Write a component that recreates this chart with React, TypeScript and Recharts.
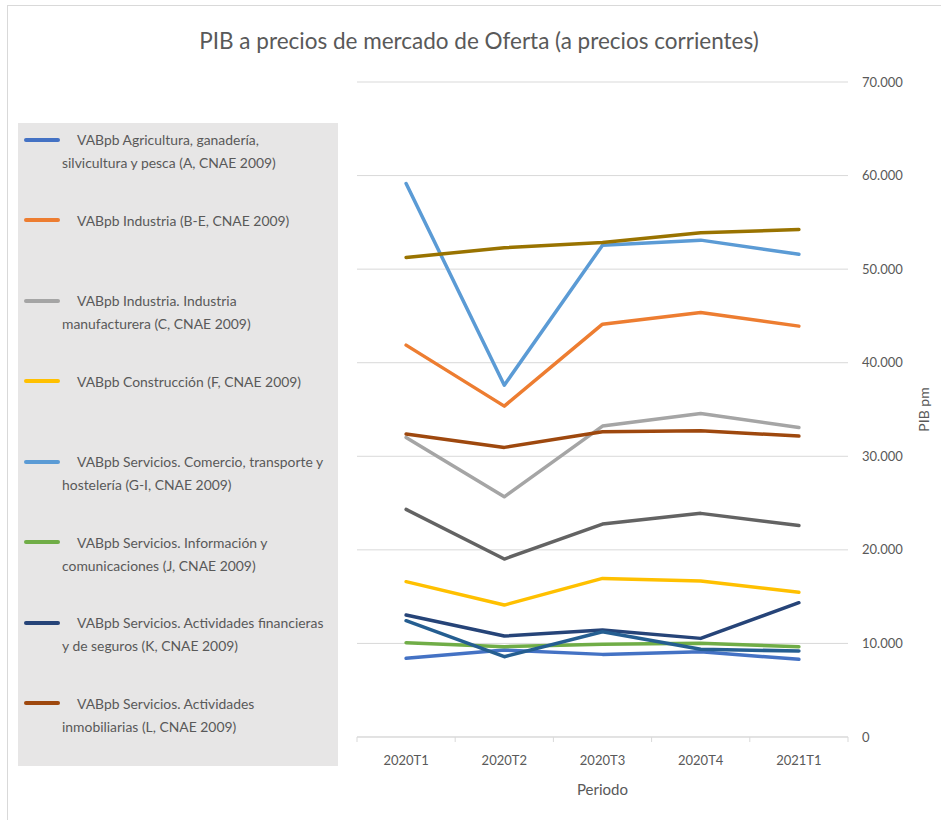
import React from 'react';
import { LineChart, Line, XAxis, YAxis, CartesianGrid } from 'recharts';

const periods = ['2020T1', '2020T2', '2020T3', '2020T4', '2021T1'];

// VAB por ramas de actividad, millones de euros
const agricultura = [8410, 9290, 8830, 9110, 8300];
const industria = [41880, 35360, 44120, 45370, 43910];
const manufacturera = [32020, 25670, 33230, 34580, 33080];
const construccion = [16600, 14100, 16950, 16670, 15460];
const comercio = [59150, 37600, 52560, 53100, 51600];
const informacion = [10080, 9650, 9900, 10010, 9650];
const financieras = [13030, 10790, 11430, 10540, 14350];
const inmobiliarias = [32370, 30950, 32620, 32730, 32160];
const profesionales = [24320, 19020, 22760, 23900, 22610];
const administracion = [51250, 52280, 52850, 53880, 54240];
const artisticas = [12430, 8580, 11250, 9370, 9190];

const yTicks = [0, 10000, 20000, 30000, 40000, 50000, 60000, 70000];

const series = [
  { key: 'agricultura', name: 'VABpb Agricultura, ganadería,\nsilvicultura y pesca (A, CNAE 2009)', color: '#4472C4', values: agricultura, legend: true },
  { key: 'industria', name: 'VABpb Industria (B-E, CNAE 2009)', color: '#ED7D31', values: industria, legend: true },
  { key: 'manufacturera', name: 'VABpb Industria. Industria\nmanufacturera (C, CNAE 2009)', color: '#A5A5A5', values: manufacturera, legend: true },
  { key: 'construccion', name: 'VABpb Construcción (F, CNAE 2009)', color: '#FFC000', values: construccion, legend: true },
  { key: 'comercio', name: 'VABpb Servicios. Comercio, transporte y\nhostelería (G-I, CNAE 2009)', color: '#5B9BD5', values: comercio, legend: true },
  { key: 'informacion', name: 'VABpb Servicios. Información y\ncomunicaciones (J, CNAE 2009)', color: '#70AD47', values: informacion, legend: true },
  { key: 'financieras', name: 'VABpb Servicios. Actividades financieras\ny de seguros (K, CNAE 2009)', color: '#264478', values: financieras, legend: true },
  { key: 'inmobiliarias', name: 'VABpb Servicios. Actividades\ninmobiliarias (L, CNAE 2009)', color: '#9E480E', values: inmobiliarias, legend: true },
  { key: 'profesionales', name: 'VABpb Servicios. Actividades profesionales (M-N, CNAE 2009)', color: '#636363', values: profesionales, legend: false },
  { key: 'administracion', name: 'VABpb Servicios. Administración pública, educación y sanidad (O-Q, CNAE 2009)', color: '#997300', values: administracion, legend: false },
  { key: 'artisticas', name: 'VABpb Servicios. Actividades artísticas y otros servicios (R-U, CNAE 2009)', color: '#255E91', values: artisticas, legend: false },
];

const data = periods.map((period, i) => {
  const row: Record<string, string | number> = { period };
  series.forEach((s) => {
    row[s.key] = s.values[i];
  });
  return row;
});

const FONT = 'Lato, "Liberation Sans", sans-serif';
const TEXT = '#595959';
const GRID = '#D9D9D9';

const formatMiles = (v: number) => String(v).replace(/\B(?=(\d{3})+(?!\d))/g, '.');

// etiqueta de periodo + marcas de división entre categorías
const PeriodTick = (props: any) => {
  const { x, y, payload, index, visibleTicksCount } = props;
  const half = payload && payload.offset ? payload.offset : 0;
  const isLast = index === visibleTicksCount - 1;
  return (
    <g>
      <line x1={x - half} y1={y} x2={x - half} y2={y + 5} stroke={GRID} />
      {isLast && <line x1={x + half} y1={y} x2={x + half} y2={y + 5} stroke={GRID} />}
      <text x={x} y={y + 28} textAnchor="middle" fill={TEXT} fontSize={13} fontFamily={FONT}>
        {payload.value}
      </text>
    </g>
  );
};

const SeriesLegend = () => (
  <div
    style={{
      position: 'absolute',
      left: 18,
      top: 123,
      width: 320,
      height: 643,
      boxSizing: 'border-box',
      paddingTop: 5,
      background: '#E7E6E6',
      fontFamily: FONT,
      fontSize: 13.9,
      color: TEXT,
    }}
  >
    {series
      .filter((s) => s.legend)
      .map((s) => (
        <div key={s.key} style={{ position: 'relative', height: 80.5 }}>
          <div
            style={{
              position: 'absolute',
              left: 6,
              top: 9.5,
              width: 36,
              height: 4,
              borderRadius: 2,
              background: s.color,
            }}
          />
          <div
            style={{
              position: 'absolute',
              left: 44,
              top: 0,
              width: 290,
              lineHeight: '23px',
              textIndent: 15,
              whiteSpace: 'pre-line',
            }}
          >
            {s.name}
          </div>
        </div>
      ))}
  </div>
);

export default function App() {
  return (
    <div
      style={{
        position: 'absolute',
        left: 0,
        top: 0,
        width: 941,
        height: 820,
        background: '#ffffff',
        overflow: 'hidden',
        fontFamily: FONT,
      }}
    >
      <div
        style={{
          position: 'absolute',
          left: 7,
          top: 5,
          width: 960,
          height: 840,
          borderLeft: `1px solid ${GRID}`,
          borderTop: `1px solid ${GRID}`,
        }}
      />
      <div
        style={{
          position: 'absolute',
          left: 0,
          top: 27,
          width: 958,
          textAlign: 'center',
          fontSize: 22.5,
          color: TEXT,
        }}
      >
        PIB a precios de mercado de Oferta (a precios corrientes)
      </div>
      <SeriesLegend />
      <div style={{ position: 'absolute', left: 0, top: 0 }}>
        <LineChart width={941} height={820} data={data} margin={{ top: 82, right: 0, bottom: 23, left: 357 }}>
          <CartesianGrid horizontal vertical={false} stroke={GRID} />
          <XAxis
            dataKey="period"
            scale="band"
            axisLine={{ stroke: GRID }}
            tickLine={false}
            tickSize={0}
            tickMargin={0}
            height={60}
            interval={0}
            tick={<PeriodTick />}
            label={{ value: 'Periodo', position: 'insideBottom', offset: 2, fill: TEXT, fontSize: 15, fontFamily: FONT }}
          />
          <YAxis
            orientation="right"
            width={93}
            domain={[0, 70000]}
            ticks={yTicks}
            axisLine={false}
            tickLine={false}
            tickMargin={8}
            tickFormatter={formatMiles}
            tick={{ fill: TEXT, fontSize: 13, fontFamily: FONT }}
            label={{ value: 'PIB pm', angle: -90, position: 'center', dx: 30, fill: TEXT, fontSize: 14, fontFamily: FONT }}
          />
          {series.map((s) => (
            <Line
              key={s.key}
              type="linear"
              dataKey={s.key}
              name={s.name}
              stroke={s.color}
              strokeWidth={3.5}
              strokeLinecap="round"
              strokeLinejoin="round"
              dot={false}
              activeDot={false}
              isAnimationActive={false}
            />
          ))}
        </LineChart>
      </div>
    </div>
  );
}
